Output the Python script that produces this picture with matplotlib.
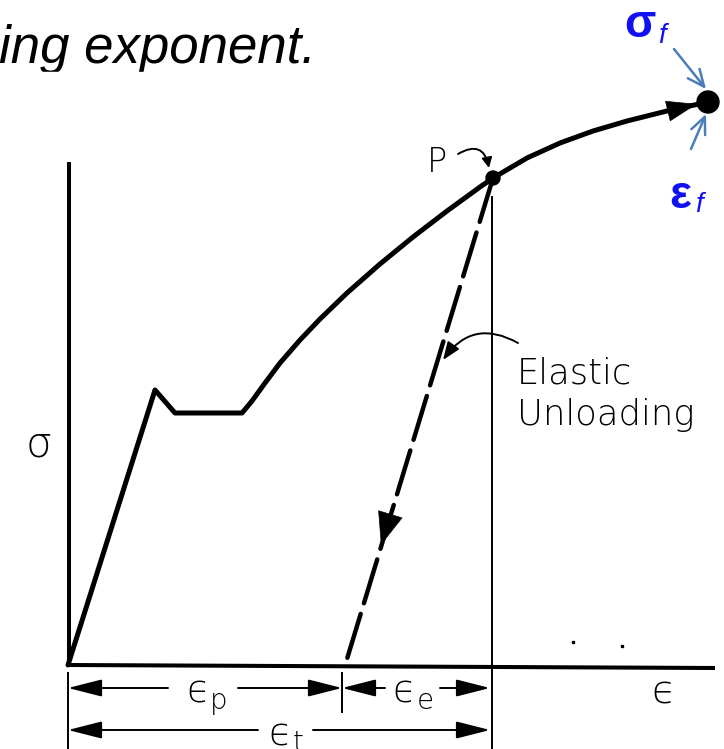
import matplotlib
matplotlib.use("Agg")
import matplotlib.pyplot as plt
from matplotlib.patches import Circle, Rectangle
import numpy as np

plt.rcParams['lines.scale_dashes'] = False

# ---- data (strain units on x, stress units on y; origin at the axes corner) ----
curve_strain = [0, 87, 107, 174, 184, 197, 212, 232, 252, 279, 312, 345, 379,
                412, 425, 459, 492, 525, 559, 599, 640]
curve_stress = [0, 275, 252, 252, 264, 282, 302, 325, 346, 372, 401, 428, 454,
                478, 487, 507, 522, 534, 544, 554, 563]
P_point = (425, 487)          # point P on the curve
fracture_point = (640, 563)   # sigma_f / eps_f
unload_end = (279, 6)         # end of elastic unloading line
eps_p_end = 274               # boundary between eps_p and eps_e
eps_total = 424               # total strain at P

labels_dim = ["ϵ", "p", "e", "t"]

fig = plt.figure(figsize=(7.24, 7.49), dpi=100)
ax = fig.add_axes([0, 0, 1, 1])
ax.set_xlim(-68, 656)
ax.set_ylim(-84, 665)
ax.axis('off')

K = 'black'
BLUE_T = '#1010f0'
BLUE_A = '#4a7ebb'
LIGHT = dict(family='DejaVu Sans', weight=200)

# axes lines
ax.plot([1, 1], [0, 503], color=K, lw=2.9, solid_capstyle='butt')
ax.plot([0, 647], [0, -3], color=K, lw=2.9, solid_capstyle='butt')

# stress-strain curve
ax.plot(curve_strain, curve_stress, color=K, lw=3.6, solid_joinstyle='round',
        solid_capstyle='round')
# arrow head near fracture
ax.annotate('', xy=(629, 561), xytext=(600, 554),
            arrowprops=dict(arrowstyle='-|>,head_length=1.3,head_width=0.45',
                            color=K, lw=0.5, mutation_scale=16,
                            shrinkA=0, shrinkB=0))
ax.add_patch(Circle(fracture_point, 11, color=K, zorder=5))
ax.add_patch(Circle(P_point, 7, color=K, zorder=5))

# elastic unloading dashed line
ax.plot([P_point[0], unload_end[0]], [P_point[1], unload_end[1]], color=K,
        lw=3.2, dashes=(33, 8), solid_capstyle='round', dash_capstyle='round')
d = np.array([unload_end[0] - P_point[0], unload_end[1] - P_point[1]], float)
d /= np.linalg.norm(d)
tip = np.array([313, 120])
ax.annotate('', xy=tip, xytext=tip - d * 30,
            arrowprops=dict(arrowstyle='-|>,head_length=1.4,head_width=0.55',
                            color=K, lw=0.5, mutation_scale=16,
                            shrinkA=0, shrinkB=0))

# thin vertical line at total strain
ax.plot([eps_total, eps_total], [468, -84], color=K, lw=1.4)

# P label + curly arrow
ax.text(369, 503, 'P', fontsize=24, ha='center', va='center', **LIGHT)
ax.annotate('', xy=(421, 497), xytext=(390, 511),
            arrowprops=dict(arrowstyle='-|>,head_length=0.6,head_width=0.3',
                            color=K, lw=1.4, mutation_scale=10,
                            connectionstyle='arc3,rad=-0.7',
                            shrinkA=0, shrinkB=0))

# Elastic Unloading label + arrow
ax.text(449, 282, 'Elastic', fontsize=25.5, ha='left', va='baseline', **LIGHT)
ax.text(449, 240, 'Unloading', fontsize=25.5, ha='left', va='baseline', **LIGHT)
ax.annotate('', xy=(375, 305), xytext=(450, 322),
            arrowprops=dict(arrowstyle='-|>,head_length=0.9,head_width=0.35',
                            color=K, lw=1.4, mutation_scale=12,
                            connectionstyle='arc3,rad=0.45',
                            shrinkA=0, shrinkB=0))

# sigma axis label
ax.text(-29, 221, 'σ', fontsize=30, ha='center', va='center', **LIGHT)
# epsilon axis label
ax.text(595, -27, labels_dim[0], fontsize=28, ha='center', va='center', **LIGHT)

# tiny marks
ax.plot([505, 554], [23, 19], ls='none', marker='s', ms=1.8, color=K)

# dimension lines
def dim_arrow(x_from, x_to, y):
    ax.annotate('', xy=(x_to, y), xytext=(x_from, y),
                arrowprops=dict(arrowstyle='-|>,head_length=1.5,head_width=0.38',
                                color=K, lw=1.4, mutation_scale=14,
                                shrinkA=0, shrinkB=0))

y1, y2 = -23, -65
ax.plot([0, 0], [-8, -84], color=K, lw=1.4)
ax.plot([eps_p_end, eps_p_end], [-8, -47], color=K, lw=1.4)
dim_arrow(100, 0, y1)
dim_arrow(170, eps_p_end, y1)
dim_arrow(317, eps_p_end, y1)
dim_arrow(372, eps_total - 2, y1)
dim_arrow(190, 0, y2)
dim_arrow(245, eps_total - 2, y2)

def eps_label(x, y, sub, sx, sy):
    ax.text(x, y, labels_dim[0], fontsize=27, ha='center', va='center', **LIGHT)
    ax.text(sx, sy, sub, fontsize=20, ha='center', va='center', **LIGHT)

eps_label(130, -27, labels_dim[1], 151, -36)
eps_label(336, -27, labels_dim[2], 357, -36)
eps_label(212, -70, labels_dim[3], 230, -78)

# fracture annotations
ax.text(572, 640, 'σ', fontsize=33, family='Liberation Sans', weight='bold',
        color=BLUE_T, ha='center', va='center')
ax.text(594, 629, 'f', fontsize=20, family='Liberation Sans', style='italic',
        color=BLUE_T, ha='center', va='center')
ax.text(612, 469, 'ε', fontsize=33, family='Liberation Sans', weight='bold',
        color=BLUE_T, ha='center', va='center')
ax.text(631, 460, 'f', fontsize=20, family='Liberation Sans', style='italic',
        color=BLUE_T, ha='center', va='center')
ax.annotate('', xy=(638, 576), xytext=(606, 616),
            arrowprops=dict(arrowstyle='->,head_length=1.0,head_width=0.45',
                            color=BLUE_A, lw=1.8, mutation_scale=12,
                            shrinkA=0, shrinkB=0))
ax.annotate('', xy=(638, 551), xytext=(623, 516),
            arrowprops=dict(arrowstyle='->,head_length=1.0,head_width=0.45',
                            color=BLUE_A, lw=1.8, mutation_scale=12,
                            shrinkA=0, shrinkB=0))

# top caption fragment (clipped at the bottom like the source)
ax.text(-69, 602, 'ing exponent.', fontsize=38, family='Liberation Sans',
        style='italic', ha='left', va='baseline')
ax.add_patch(Rectangle((-68, 555), 360, 38, color='white', zorder=10))

fig.savefig('out.png', dpi=100)
